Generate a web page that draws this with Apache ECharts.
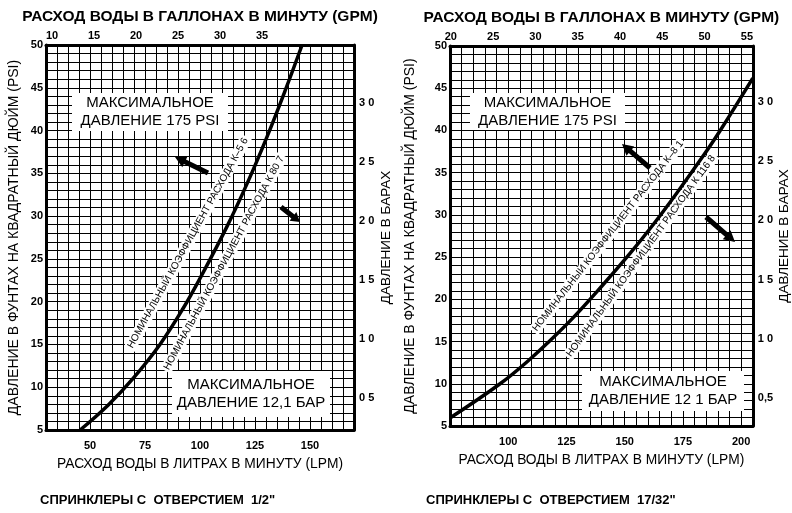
<!DOCTYPE html>
<html>
<head>
<meta charset="utf-8">
<script src="https://cdn.jsdelivr.net/npm/echarts@6/dist/echarts.min.js"></script>
<style>
  html, body { margin: 0; padding: 0; background: #fff; }
  #chart { width: 792px; height: 513px; }
</style>
</head>
<body>
<div id="chart"></div>
<script>
// Sprinkler 1/2" (K-5.6 / K80.7): flow in litres per minute vs pressure in PSI
const halfInchFlowLpm = [45.5, 58.2, 69.5, 81.8, 92.3, 101.4, 112.3, 121.4, 130.5, 138.6, 146.4];
const halfInchPsi     = [5.0, 7.9, 11.0, 15.0, 19.2, 23.4, 28.8, 33.8, 39.3, 44.6, 50.0];

// Sprinkler 17/32" (K-8.1 / K116.8)
const bigFlowLpm = [75.0, 96.5, 109.3, 117.9, 127.8, 140.6, 152.2, 162.1, 172.4, 183.5, 190.8, 205.0];
const bigPsi     = [5.95, 10.0, 12.9, 15.1, 17.8, 21.7, 25.4, 28.8, 32.6, 36.9, 39.9, 46.2];

// Tick labels
const leftGpmTicks  = [10, 15, 20, 25, 30, 35];
const rightGpmTicks = [20, 25, 30, 35, 40, 45, 50, 55];
const leftLpmTicks  = [50, 75, 100, 125, 150];
const rightLpmTicks = [100, 125, 150, 175, 200];
const psiTicks      = [5, 10, 15, 20, 25, 30, 35, 40, 45, 50];
const barTicks      = [0.5, 1, 1.5, 2, 2.5, 3];
const barTextLeft   = ['0 5', '1 0', '1 5', '2 0', '2 5', '3 0'];
const barTextRight  = ['0,5', '1 0', '1 5', '2 0', '2 5', '3 0'];

// Texts
const gpmTitle  = 'РАСХОД ВОДЫ В ГАЛЛОНАХ В МИНУТУ (GPM)';
const lpmTitle  = 'РАСХОД ВОДЫ В ЛИТРАХ В МИНУТУ (LPM)';
const psiTitle  = 'ДАВЛЕНИЕ В ФУНТАХ НА КВАДРАТНЫЙ ДЮЙМ (PSI)';
const barTitle  = 'ДАВЛЕНИЕ В БАРАХ';
const maxPsiText = ['МАКСИМАЛЬНОЕ', 'ДАВЛЕНИЕ 175 PSI'];
const maxBarTextLeft  = ['МАКСИМАЛЬНОЕ', 'ДАВЛЕНИЕ 12,1 БАР'];
const maxBarTextRight = ['МАКСИМАЛЬНОЕ', 'ДАВЛЕНИЕ 12 1 БАР'];
const captionLeft  = 'СПРИНКЛЕРЫ С  ОТВЕРСТИЕМ  1/2"';
const captionRight = 'СПРИНКЛЕРЫ С  ОТВЕРСТИЕМ  17/32"';
const kLabels = [
  'НОМИНАЛЬНЫЙ КОЭФФИЦИЕНТ РАСХОДА К–5 6',
  'НОМИНАЛЬНЫЙ КОЭФФИЦИЕНТ РАСХОДА К 80 7',
  'НОМИНАЛЬНЫЙ КОЭФФИЦИЕНТ РАСХОДА К–8 1',
  'НОМИНАЛЬНЫЙ КОЭФФИЦИЕНТ РАСХОДА К 116 8'
];

const FONT = '"Liberation Sans", Arial, Helvetica, sans-serif';
const INK = '#000';

function pairs(xs, ys) { return xs.map((x, i) => [x, ys[i]]); }

const frameLine = { show: true, onZero: false, lineStyle: { color: INK, width: 3 } };
const gridLine  = { show: true, lineStyle: { color: INK, width: 1 } };
const tickFont  = { color: INK, fontFamily: FONT, fontSize: 11, fontWeight: 'bold' };

function lpmAxis(grid, min, max, ticks) {
  return {
    type: 'value', gridIndex: grid, position: 'bottom', min, max, interval: 5,
    axisLine: frameLine, axisTick: { show: false }, splitLine: gridLine,
    axisLabel: Object.assign({ margin: 10, showMinLabel: true, showMaxLabel: true,
      formatter: v => ticks.includes(v) ? String(v) : '' }, tickFont),
    name: lpmTitle, nameLocation: 'middle', nameGap: 27,
    nameTextStyle: { color: INK, fontFamily: FONT, fontSize: 13.8 }
  };
}
function gpmAxis(grid, min, max, ticks) {
  return {
    type: 'value', gridIndex: grid, position: 'top', min, max,
    axisLine: frameLine, axisTick: { show: false }, splitLine: { show: false },
    axisLabel: Object.assign({ margin: 4, customValues: ticks, formatter: v => String(v) }, tickFont),
    name: gpmTitle, nameLocation: 'middle', nameGap: 19,
    nameTextStyle: { color: INK, fontFamily: FONT, fontSize: 15.5, fontWeight: 'bold' }
  };
}
function psiAxis(grid, gap) {
  return {
    type: 'value', gridIndex: grid, position: 'left', min: 5, max: 50, interval: 1,
    axisLine: frameLine, axisTick: { show: false }, splitLine: gridLine,
    axisLabel: Object.assign({ margin: 3, showMinLabel: true, showMaxLabel: true,
      formatter: v => psiTicks.includes(v) ? String(v) : '' }, tickFont),
    name: psiTitle, nameLocation: 'middle', nameGap: gap, nameRotate: 90,
    nameTextStyle: { color: INK, fontFamily: FONT, fontSize: 14 }
  };
}
function barAxis(grid, min, max, texts, gap) {
  return {
    type: 'value', gridIndex: grid, position: 'right', min, max,
    axisLine: frameLine, axisTick: { show: false }, splitLine: { show: false },
    axisLabel: Object.assign({ margin: 5, customValues: barTicks,
      formatter: v => { const i = barTicks.findIndex(b => Math.abs(b - v) < 1e-6); return i >= 0 ? texts[i] : ''; } }, tickFont),
    name: barTitle, nameLocation: 'middle', nameGap: gap, nameRotate: 90,
    nameTextStyle: { color: INK, fontFamily: FONT, fontSize: 13.5 }
  };
}

// Arrow polygon from tail to head
function arrow(x1, y1, x2, y2, w, hl, hw) {
  const dx = x2 - x1, dy = y2 - y1, L = Math.hypot(dx, dy);
  const ux = dx / L, uy = dy / L, nx = -uy, ny = ux;
  const bx = x2 - ux * hl, by = y2 - uy * hl;
  return {
    type: 'polygon', z: 100,
    shape: { points: [
      [x1 + nx * w / 2, y1 + ny * w / 2], [bx + nx * w / 2, by + ny * w / 2],
      [bx + nx * hw / 2, by + ny * hw / 2], [x2, y2],
      [bx - nx * hw / 2, by - ny * hw / 2], [bx - nx * w / 2, by - ny * w / 2],
      [x1 - nx * w / 2, y1 - ny * w / 2]
    ] },
    style: { fill: INK }
  };
}
function box(x, y, w, h, lines, size) {
  return {
    type: 'group', z: 100,
    children: [
      { type: 'rect', shape: { x, y, width: w, height: h }, style: { fill: '#fff' }, z: 100 },
      { type: 'text', x: x + w / 2, y: y + h / 2, z: 101,
        style: { text: lines.join('\n'), fill: INK, font: size + 'px ' + FONT,
                 align: 'center', verticalAlign: 'middle', lineHeight: size + 3 } }
    ]
  };
}
function slanted(text, cx, cy, deg, size) {
  return {
    type: 'text', x: cx, y: cy, rotation: deg * Math.PI / 180, z: 100,
    style: { text, fill: INK, font: size + 'px ' + FONT, align: 'center', verticalAlign: 'middle',
             backgroundColor: '#fff', padding: [1, 2] }
  };
}
function caption(text, x, y) {
  return { type: 'text', x, y, z: 100,
    style: { text, fill: INK, font: 'bold 13px ' + FONT, align: 'left', verticalAlign: 'middle' } };
}

const chart = echarts.init(document.getElementById('chart'), null, { renderer: 'canvas' });
chart.setOption({
  animation: false,
  backgroundColor: '#fff',
  grid: [
    { left: 46, top: 45, width: 308, height: 385 },
    { left: 450, top: 46, width: 303, height: 380 }
  ],
  xAxis: [
    lpmAxis(0, 30, 170, leftLpmTicks),
    gpmAxis(0, 9.286, 45.95, leftGpmTicks),
    lpmAxis(1, 75, 205, rightLpmTicks),
    gpmAxis(1, 19.9, 55.7, rightGpmTicks)
  ],
  yAxis: [
    psiAxis(0, 25),
    barAxis(0, 0.229, 3.49, barTextLeft, 25),
    psiAxis(1, 33),
    barAxis(1, 0.264, 3.473, barTextRight, 23)
  ],
  series: [
    { type: 'line', xAxisIndex: 0, yAxisIndex: 0, data: pairs(halfInchFlowLpm, halfInchPsi),
      smooth: 0.4, showSymbol: false, clip: true, lineStyle: { color: INK, width: 3.5 }, z: 5 },
    { type: 'line', xAxisIndex: 2, yAxisIndex: 2, data: pairs(bigFlowLpm, bigPsi),
      smooth: 0.4, showSymbol: false, clip: true, lineStyle: { color: INK, width: 3.5 }, z: 5 }
  ],
  graphic: [
    box(72, 93, 156, 38, maxPsiText, 15),
    box(172, 371, 158, 46, maxBarTextLeft, 15),
    box(470, 93, 155, 37, maxPsiText, 15),
    box(582, 371, 162, 40, maxBarTextRight, 15),
    arrow(208, 173, 175, 157, 5, 11, 12),
    arrow(281, 207, 300, 222, 5, 9, 11),
    arrow(650, 168, 622, 144, 5, 11, 12),
    arrow(706, 217, 735, 242, 5, 11, 12),
    slanted(kLabels[0], 188, 243, 61, 10),
    slanted(kLabels[1], 224, 263, 61.5, 10),
    slanted(kLabels[2], 608, 236, 52, 10),
    slanted(kLabels[3], 641, 256, 54, 10),
    caption(captionLeft, 40, 500),
    caption(captionRight, 426, 500)
  ]
});
</script>
</body>
</html>
